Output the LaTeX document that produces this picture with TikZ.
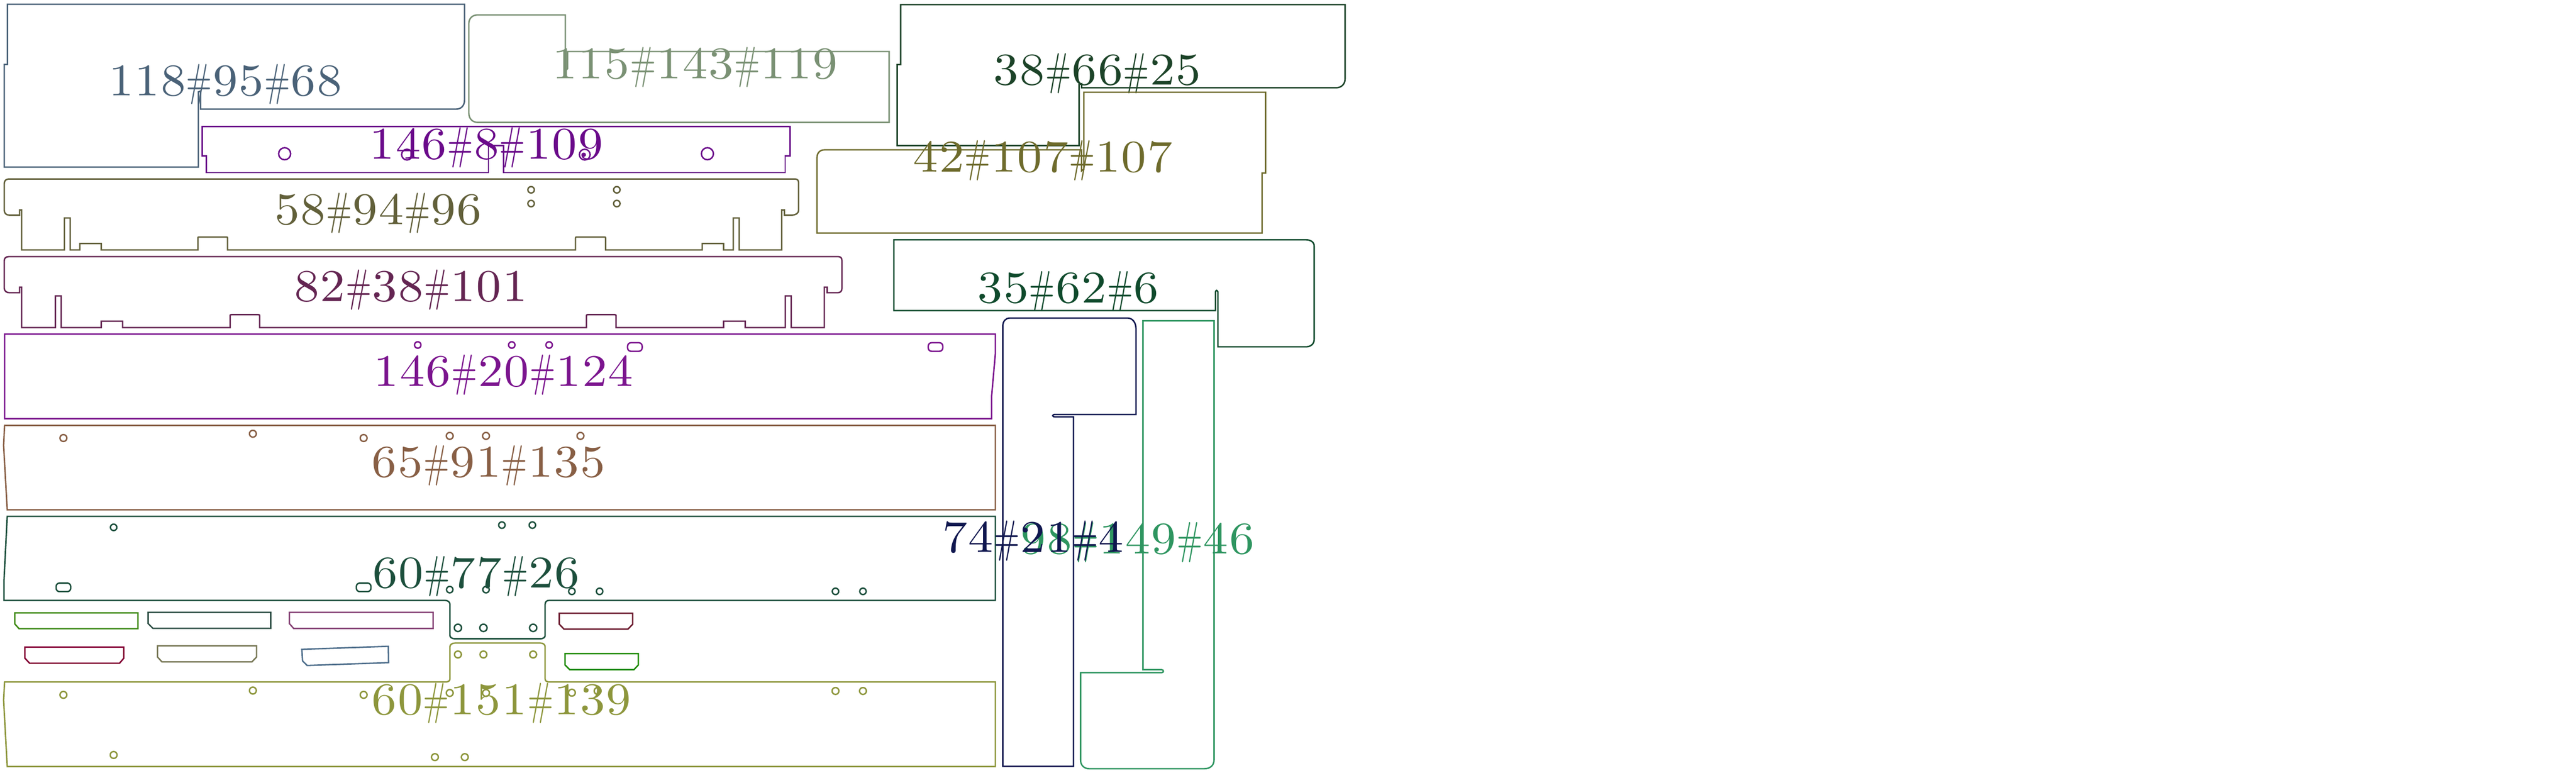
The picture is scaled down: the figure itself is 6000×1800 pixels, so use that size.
\documentclass[tikz,border=0pt]{standalone}
\usepackage{xcolor}
\usepackage{graphicx}
\usetikzlibrary{positioning}
\definecolor{slate}{HTML}{4A6278}
\definecolor{sage}{HTML}{7A9174}
\definecolor{violet}{HTML}{6A0A8A}
\definecolor{pine}{HTML}{1C4328}
\definecolor{moss}{HTML}{6E6B2C}
\definecolor{drab}{HTML}{62603A}
\definecolor{plum}{HTML}{642552}
\definecolor{orchid}{HTML}{7B148E}
\definecolor{umber}{HTML}{885F45}
\definecolor{spruce}{HTML}{1C4F3C}
\definecolor{olive2}{HTML}{8D963C}
\definecolor{fir}{HTML}{0F4A2C}
\definecolor{navy}{HTML}{10174F}
\definecolor{jade}{HTML}{2E9560}
\tikzset{
  part/.style={line width=.95pt,line join=miter},
  partlabel/.style={inner sep=0pt,anchor=base,font=\normalfont,scale=3}
}
\makeatletter
% every character of a label sits in a box of the same width
\newcommand{\evenly}[1]{\@tfor\ch:=#1\do{\makebox[5.75pt]{\scalebox{1.1}[1]{\ch}}}}
\makeatother
\newcommand{\hashmark}{\scalebox{.62}[1]{\#}}
\newcommand{\partlabel}[5]{
  \node (#1) [partlabel,text=#2] at (#3,#4) {\evenly{#5}};
}
\newcommand{\holes}[3]{
  \foreach \x/\y in {#3} {
    \draw[part,#1] (\x,\y) circle[radius=#2];
  }
}
\newcommand{\slotbox}[3]{
  \draw[part,#1,rounded corners=.08cm] (#2-17,#3-10) rectangle (#2+17,#3+10);
}
\newcommand{\chamfered}[8]{
  % colour, left, right, top, bottom, chamfer height, left inset, right inset
  \draw[part,#1] (#2,#4) -- (#3,#4) -- (#3,#6) -- (#3-#8,#5) -- (#2+#7,#5) -- (#2,#6) -- cycle;
}
\begin{document}
\begin{tikzpicture}[x=.01cm,y=-.01cm]
\useasboundingbox (0,0) rectangle (6000,1800);
% top row
\draw[part,slate] (17.5,10) -- (1082,10) -- (1082,233) .. controls (1082,246) and (1074,254) .. (1063,254) -- (467,254) -- (467,212) -- (462,214) -- (462,389) -- (10,389) -- (10,150) -- (17.5,150) -- cycle;
\partlabel{lab118}{slate}{525}{223}{118\hashmark 95\hashmark 68}
\draw[part,sage] (1113,34.7) -- (1316.6,34.7) -- (1316.6,165) -- (1322,160) -- (1322,120) -- (2071,120) -- (2071,285) -- (1113,285) .. controls (1100,285) and (1092,276) .. (1092,263) -- (1092,55) .. controls (1092,43) and (1100,34.7) .. cycle;
\partlabel{lab115}{sage}{1619}{183}{115\hashmark 143\hashmark 119}
\draw[part,violet] (471.4,295) -- (1840.6,295) -- (1840.6,363) -- (1828.7,363) -- (1828.7,402) -- (1172.8,402) -- (1172.8,338.7) -- (1137.7,338.7) -- (1137.7,402) -- (481,402) -- (481,362.7) -- (471.4,362.7) -- cycle;
\holes{violet}{14}{663/358,1647.7/358}
\holes{violet}{12.5}{948/360,1362/360}
\partlabel{lab146a}{violet}{1133}{370}{146\hashmark 8\hashmark 109}
\draw[part,pine] (2097.7,10.7) -- (3133,10.7) -- (3133,183.7) .. controls (3133,196) and (3124,204.4) .. (3112,204.4) -- (2519.4,204.4) -- (2519.4,195) -- (2513.5,197) -- (2513.5,339) -- (2089.6,339) -- (2089.6,150.4) -- (2097.7,150.4) -- cycle;
\partlabel{lab38}{pine}{2556}{197}{38\hashmark 66\hashmark 25}
\draw[part,moss] (2524.5,214.7) -- (2947.7,214.7) -- (2947.7,403) -- (2939.6,403) -- (2939.6,542.7) -- (1903,542.7) -- (1903,366.7) .. controls (1903,356) and (1910,349) .. (1920,349) -- (2519,349) -- (2519,398) -- (2524.5,394) -- cycle;
\partlabel{lab42}{moss}{2429}{400}{42\hashmark 107\hashmark 107}
\draw[part,fir] (2082,558.3) -- (3041,558.3) .. controls (3053,558.3) and (3061,564) .. (3061,573) -- (3061,790) .. controls (3061,801) and (3053,807.7) .. (3041,807.7) -- (2836.8,807.7) -- (2836.8,680) .. controls (2835,675) and (2832,675) .. (2831,680) -- (2831,723.3) -- (2082,723.3) -- cycle;
\partlabel{lab35}{fir}{2488}{705}{35\hashmark 62\hashmark 6}
% the two notched strips
\draw[part,drab] (20,417) -- (1852.5,417) .. controls (1857,417) and (1860,420) .. (1860,425) -- (1860,490) .. controls (1860,497) and (1853,501) .. (1843,501) -- (1827,501) -- (1827,489) -- (1820.7,489) -- (1820.7,582) -- (1721.8,582) -- (1721.8,507.7) -- (1707.8,507.7) -- (1707.8,582) -- (1685.5,582) -- (1685.5,567) -- (1635.7,567) -- (1635.7,582) -- (1410.6,582) -- (1410.6,556) .. controls (1410.6,552) .. (1406,552) -- (1345,552) .. controls (1340.4,552) .. (1340.4,556) -- (1340.4,582) -- (530,582) -- (530,556) .. controls (530,552) .. (526,552) -- (465,552) .. controls (461,552) .. (461,556) -- (461,582) -- (235.7,582) -- (235.7,567) -- (186,567) -- (186,582) -- (163.5,582) -- (163.5,507.7) -- (150,507.7) -- (150,582) -- (50.5,582) -- (50.5,489) -- (45.6,489) -- (45.6,501) -- (22,501) .. controls (15,501) and (10,497) .. (10,490) -- (10,427) .. controls (10,421) and (14,417) .. cycle;
\holes{drab}{7.5}{1237/442,1237/474,1436.7/442,1436.7/474}
\partlabel{lab58}{drab}{881}{522.7}{58\hashmark 94\hashmark 96}
\draw[part,plum] (20,597.7) -- (1953,597.7) .. controls (1958,597.7) and (1961,601) .. (1961,606.7) -- (1961,671.7) .. controls (1961,677) and (1958,681.7) .. (1951,681.7) -- (1926.5,681.7) -- (1926.5,668.7) -- (1920,668.7) -- (1920,763) -- (1843,763) -- (1843,689) -- (1829,689) -- (1829,763) -- (1735.8,763) -- (1735.8,748) -- (1685.5,748) -- (1685.5,763) -- (1434.8,763) -- (1434.8,737) .. controls (1434.8,732.7) .. (1430,732.7) -- (1371,732.7) .. controls (1366,732.7) .. (1366,737) -- (1366,763) -- (604.7,763) -- (604.7,737) .. controls (604.7,732.7) .. (600,732.7) -- (541,732.7) .. controls (536,732.7) .. (536,737) -- (536,763) -- (285.5,763) -- (285.5,748) -- (235.7,748) -- (235.7,763) -- (142.4,763) -- (142.4,689) -- (129,689) -- (129,763) -- (50.5,763) -- (50.5,668.7) -- (45.6,668.7) -- (45.6,681.7) -- (22,681.7) .. controls (15,681.7) and (10,677) .. (10,671.7) -- (10,606.7) .. controls (10,601) and (14,597.7) .. cycle;
\partlabel{lab82}{plum}{957}{701.7}{82\hashmark 38\hashmark 101}
% long panels
\draw[part,orchid] (10.7,778) -- (2318.4,778) -- (2318.4,823) -- (2309.6,923) -- (2309.6,975) -- (10.7,975) -- cycle;
\holes{orchid}{7.5}{973/803.3,1192/803.3,1279/803.3}
\slotbox{orchid}{1478.7}{808}
\slotbox{orchid}{2179}{808}
\partlabel{lab146b}{orchid}{1173}{899}{146\hashmark 20\hashmark 124}
\draw[part,umber] (10.7,990.7) -- (2318.4,990.7) -- (2318.4,1187) -- (16.8,1187) -- (8.4,1037) -- cycle;
\holes{umber}{8}{147.7/1020,589/1010,847/1020,1047.5/1015,1132/1015,1352/1015}
\partlabel{lab65}{umber}{1138}{1110}{65\hashmark 91\hashmark 135}
\draw[part,spruce] (16.8,1202.5) -- (2318.4,1202.5) -- (2318.4,1398) -- (1279,1398) .. controls (1273,1398) and (1269.7,1402) .. (1269.7,1407) -- (1269.7,1480) .. controls (1269.7,1484) and (1265,1487.5) .. (1258.7,1487.5) -- (1060,1487.5) .. controls (1053,1487.5) and (1048,1484) .. (1048,1480) -- (1048,1407) .. controls (1048,1402) and (1043,1398) .. (1036.7,1398) -- (9.2,1398) -- (9.2,1354) -- cycle;
\holes{spruce}{7.5}{264.7/1228,1169/1222.7,1240/1222.7,1047.5/1373,1132/1373,1332/1377,1396.6/1377,1946/1377,2010/1377}
\holes{spruce}{8.5}{1066.6/1462,1126/1462,1241.8/1462}
\slotbox{spruce}{147.7}{1367.7}
\slotbox{spruce}{847}{1367.7}
\partlabel{lab60a}{spruce}{1109}{1368}{60\hashmark 77\hashmark 26}
\draw[part,olive2] (1060,1497.4) -- (1258.7,1497.4) .. controls (1265,1497.4) and (1269.7,1501) .. (1269.7,1506) -- (1269.7,1581) .. controls (1269.7,1585) and (1273,1588) .. (1279,1588) -- (2318.4,1588) -- (2318.4,1785) -- (16.8,1785) -- (8.4,1630) -- (10.7,1588) -- (1039,1588) .. controls (1044,1588) and (1048,1585) .. (1048,1581) -- (1048,1506) .. controls (1048,1501) and (1053,1497.4) .. cycle;
\holes{olive2}{8}{1066.6/1524,1126/1524,1241.8/1524,147.7/1618,589/1608,847/1618,1047.5/1613.6,1132/1613.6,1332/1613,1392/1609,1946/1609,2010/1609,264.7/1758,1013/1763,1082.6/1763}
\partlabel{lab60b}{olive2}{1168}{1664}{60\hashmark 151\hashmark 139}
% the small tabs
\draw[part,color={rgb,255:red,63;green,138;blue,22}] (34.4,1427) -- (321.3,1427) -- (321.3,1464) -- (44.4,1464) -- (34.4,1452.7) -- cycle;
\draw[part,color={rgb,255:red,46;green,79;blue,69}] (345,1425.8) -- (630.5,1425.8) -- (630.5,1463) -- (356,1463) -- (345,1452) -- cycle;
\draw[part,color={rgb,255:red,135;green,68;blue,119}] (674,1425.8) -- (1009,1425.8) -- (1009,1463.4) -- (684,1463.4) -- (674,1452) -- cycle;
\chamfered{color={rgb,255:red,130;green,0;blue,50}}{58}{288.4}{1507}{1544.4}{1532.6}{11}{10}
\chamfered{color={rgb,255:red,119;green,119;blue,85}}{367}{597.5}{1504}{1541}{1530}{10}{10.5}
\draw[part,color={rgb,255:red,79;green,111;blue,140}] (703,1512) -- (904.4,1505) -- (905,1543) -- (715.4,1549.6) -- (704.7,1539) -- cycle;
\chamfered{color={rgb,255:red,107;green,26;blue,46}}{1302.7}{1473.6}{1428}{1465}{1453.5}{11}{11}
\chamfered{color={rgb,255:red,29;green,138;blue,6}}{1316}{1486.8}{1522}{1559.4}{1548.4}{11}{10.3}
% the two tall parts at the right
\draw[part,jade] (2662,747) -- (2827.6,747) -- (2827.6,1769.8) .. controls (2827.6,1782) and (2819,1790) .. (2805,1790) -- (2537,1790) .. controls (2525,1790) and (2516.8,1782) .. (2516.8,1769.8) -- (2516.8,1566.4) -- (2705.6,1566.4) .. controls (2711,1566.4) and (2711,1559.4) .. (2705.6,1559.4) -- (2662,1559.4) -- cycle;
\partlabel{lab98}{jade}{2650}{1289}{98\hashmark 149\hashmark 46}
\draw[part,navy] (2352,740.7) -- (2626.5,740.7) .. controls (2638,740.7) and (2646,751) .. (2646,766.6) -- (2646,965) -- (2458,965) .. controls (2450,965) and (2450,970.8) .. (2458,970.8) -- (2500.5,970.8) -- (2500.5,1784.5) -- (2335.7,1784.5) -- (2335.7,760) .. controls (2335.7,748) and (2342,740.7) .. cycle;
\partlabel{lab74}{navy}{2406}{1286}{74\hashmark 21\hashmark 4}
\end{tikzpicture}
\end{document}
